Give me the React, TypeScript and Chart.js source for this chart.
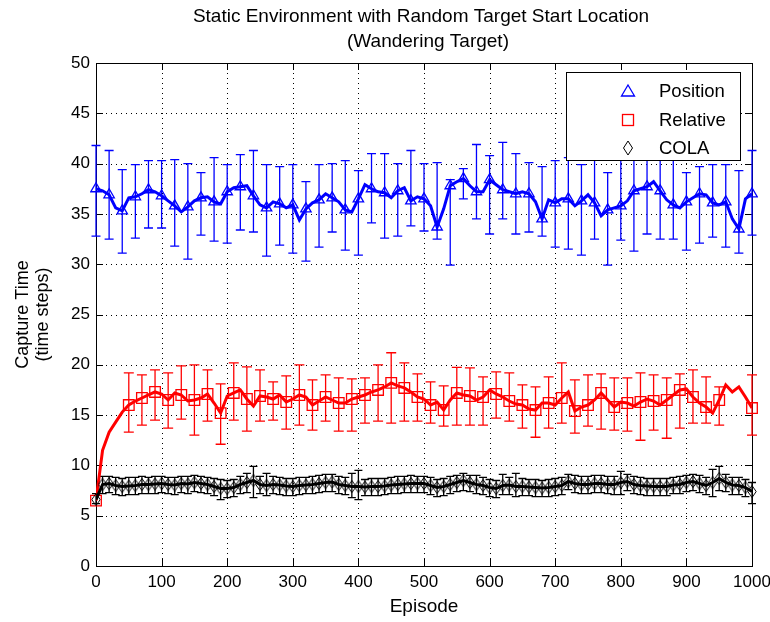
import React, { useEffect, useRef } from 'react';
import { Chart, registerables } from 'chart.js';

Chart.register(...registerables);

// ---------- data ----------
const EPISODES = Array.from({ length: 101 }, (_, i) => i * 10);
const X_TICKS = [0, 100, 200, 300, 400, 500, 600, 700, 800, 900, 1000];
const Y_TICKS = [0, 5, 10, 15, 20, 25, 30, 35, 40, 45, 50];

const TITLE_LINES = ['Static Environment with Random Target Start Location', '(Wandering Target)'];
const Y_TITLE = ['Capture Time', '(time steps)'];
const X_TITLE = 'Episode';
const SERIES_NAMES = ['Position', 'Relative', 'COLA'];

const POS_LINE = [
  37.5, 37.3, 36.9, 35.6, 35.3, 36.6, 36.7, 37.0, 37.4, 37.2,
  36.8, 36.3, 35.8, 35.2, 35.7, 36.3, 36.6, 36.7, 36.2, 36.0,
  37.2, 37.6, 37.7, 37.8, 36.8, 35.9, 35.6, 36.2, 36.0, 35.6,
  35.9, 34.4, 35.5, 36.1, 36.4, 37.0, 36.6, 36.2, 35.4, 35.2,
  36.5, 37.9, 37.5, 37.2, 37.1, 36.6, 37.3, 37.6, 36.3, 36.7,
  36.5, 35.8, 33.7, 35.5, 37.8, 38.2, 38.5, 37.8, 37.2, 37.2,
  38.4, 37.9, 37.4, 37.2, 37.0, 37.2, 37.0, 36.2, 34.5, 36.4,
  36.1, 36.5, 36.5, 35.8, 36.3, 36.9, 36.1, 34.8, 35.4, 35.6,
  35.8, 36.3, 37.3, 37.5, 37.7, 38.2, 37.3, 36.4, 35.9, 35.6,
  36.2, 36.6, 37.0, 36.9, 36.1, 35.9, 36.2, 34.5, 33.5, 36.5,
  37.0,
];
const POS_MARK_EP = EPISODES.filter((_, i) => i % 2 === 0);
const POS_HI = [
  41.8, 41.3, 39.4, 39.9, 40.3, 40.3, 40.4, 40.0, 39.1, 40.6,
  39.9, 40.9, 41.3, 39.9, 39.7, 39.9, 38.2, 39.9, 40.0, 40.3,
  39.3, 41.0, 41.0, 40.0, 41.3, 40.0, 40.1, 38.4, 39.5, 41.9,
  40.8, 42.1, 41.0, 40.1, 39.7, 40.3, 40.6, 39.9, 42.0, 39.1,
  42.0, 41.6, 41.8, 41.5, 41.6, 39.1, 39.7, 39.9, 39.9, 39.3,
  41.3,
];
const POS_LO = [
  32.8, 32.5, 31.1, 32.6, 33.6, 33.6, 31.8, 30.5, 32.9, 32.3,
  32.1, 33.4, 33.2, 30.8, 31.9, 31.1, 30.3, 31.7, 33.2, 31.4,
  30.9, 34.1, 32.6, 32.8, 33.8, 33.3, 32.5, 29.9, 36.5, 34.5,
  33.0, 34.5, 33.0, 33.2, 32.8, 31.7, 31.5, 30.9, 32.5, 29.9,
  32.4, 31.3, 33.0, 32.5, 32.5, 31.4, 32.1, 32.7, 31.7, 31.1,
  32.9,
];

const REL_LINE = [
  6.5, 11.5, 13.3, 14.3, 15.3, 16.0, 16.4, 16.7, 17.0, 17.3,
  17.1, 16.5, 17.2, 17.0, 16.4, 16.5, 16.7, 17.1, 16.2, 15.2,
  16.9, 17.2, 17.5, 16.6, 15.9, 16.9, 16.8, 16.6, 17.0, 16.3,
  16.6, 17.0, 16.8, 16.0, 16.4, 16.8, 16.5, 16.2, 16.2, 16.6,
  16.8, 17.0, 17.3, 17.5, 17.8, 18.2, 17.9, 17.7, 17.3, 16.8,
  16.6, 16.0, 16.3, 15.5, 16.5, 17.2, 17.0, 16.9, 16.5, 16.8,
  17.5, 17.1, 16.8, 16.4, 16.1, 16.0, 15.6, 15.5, 16.2, 16.2,
  16.0, 16.7, 17.3, 15.4, 15.8, 16.0, 16.5, 17.2, 16.5, 15.8,
  16.3, 16.2, 15.9, 16.3, 16.6, 16.4, 16.0, 16.5, 17.0, 17.5,
  17.6, 16.8, 16.2, 15.8, 15.2, 16.5, 18.0, 17.3, 17.8, 16.8,
  15.7,
];
const REL_MARK_EP = [
  0, 50, 70, 90, 110, 130, 150, 170, 190, 210, 230, 250, 270, 290, 310, 330,
  350, 370, 390, 410, 430, 450, 470, 490, 510, 530, 550, 570, 590, 610, 630,
  650, 670, 690, 710, 730, 750, 770, 790, 810, 830, 850, 870, 890, 910, 930,
  950, 1000,
];
const REL_HI = [
  null, 19.2, 19.0, 19.5, 19.2, 19.9, 20.0, 19.5, 18.1, 20.2, 19.8, 19.5, 18.3,
  18.9, 20.0, 18.5, 19.0, 18.7, 18.6, 18.7, 20.0, 21.2, 20.2, 19.1, 18.3, 17.9,
  19.75, 19.7, 18.8, 19.3, 19.2, 18.0, 17.8, 18.8, 20.2, 18.5, 19.0, 19.1, 18.7,
  18.7, 19.2, 19.0, 18.7, 19.1, 19.5, 18.8, 17.8, 19.0,
];
const REL_LO = [
  null, 13.3, 14.0, 14.5, 13.7, 14.6, 13.0, 14.4, 12.1, 14.5, 13.4, 14.4, 14.5,
  13.6, 14.0, 13.5, 14.4, 13.4, 13.4, 14.2, 14.4, 14.2, 14.4, 14.4, 14.2, 13.9,
  14.0, 14.0, 14.0, 14.7, 14.4, 13.7, 12.8, 13.7, 14.2, 13.2, 13.9, 13.6, 13.5,
  13.4, 12.5, 13.5, 12.7, 13.7, 14.2, 14.2, 14.0, 13.0,
];

const COLA_LINE = [
  6.6, 8.1, 8.2, 8.0, 7.9, 7.95, 8.0, 8.1, 8.1, 8.15,
  8.2, 8.1, 8.05, 8.2, 8.15, 8.3, 8.2, 8.1, 7.9, 7.7,
  7.7, 7.8, 8.1, 8.3, 8.5, 8.1, 8.0, 8.1, 8.05, 7.95,
  7.9, 8.0, 8.05, 8.1, 8.2, 8.3, 8.35, 8.1, 8.0, 7.9,
  7.9, 7.85, 7.9, 7.9, 7.95, 8.05, 8.1, 8.15, 8.2, 8.2,
  8.2, 8.0, 7.8, 7.9, 8.1, 8.3, 8.5, 8.3, 8.1, 8.0,
  7.8, 7.7, 8.0, 8.05, 7.9, 7.9, 7.85, 7.8, 7.75, 7.8,
  7.9, 8.0, 8.4, 8.2, 8.1, 8.1, 8.2, 8.2, 8.1, 8.1,
  8.3, 8.4, 8.1, 8.0, 7.95, 7.9, 7.9, 7.9, 8.05, 8.1,
  8.3, 8.4, 8.2, 8.0, 8.3, 8.7, 8.3, 8.05, 8.0, 7.8,
  7.4,
];
const COLA_HI = [
  7.2, 8.9, 8.9, 8.8, 8.7, 8.8, 8.8, 8.9, 8.8, 8.9,
  8.9, 8.8, 8.8, 8.9, 8.9, 9.0, 8.9, 8.8, 8.7, 8.6,
  8.5, 8.6, 8.9, 9.2, 9.9, 8.9, 9.2, 8.9, 8.8, 8.7,
  8.7, 8.8, 8.8, 8.9, 9.0, 9.1, 9.1, 8.9, 8.8, 9.2,
  9.5, 8.6, 8.7, 8.7, 8.7, 8.8, 8.9, 8.9, 9.0, 8.9,
  8.9, 8.8, 8.6, 8.7, 8.9, 9.0, 9.2, 9.0, 9.0, 8.8,
  8.6, 8.5, 9.1, 8.8, 9.2, 8.7, 8.6, 8.6, 8.5, 8.6,
  8.7, 8.8, 9.1, 9.0, 8.9, 8.9, 9.0, 9.0, 8.9, 8.9,
  9.4, 9.1, 8.9, 8.8, 8.7, 8.7, 8.7, 8.7, 8.8, 8.9,
  9.0, 9.1, 9.0, 8.8, 9.6, 9.9, 9.1, 8.8, 8.8, 8.6,
  8.3,
];
const COLA_LO = [
  6.2, 7.2, 7.3, 7.1, 7.0, 7.1, 7.1, 7.2, 7.2, 7.2,
  7.3, 7.2, 7.1, 7.3, 7.2, 7.4, 7.3, 7.2, 7.0, 6.6,
  6.8, 6.9, 7.2, 7.3, 6.8, 7.2, 7.0, 7.2, 7.1, 7.0,
  7.0, 7.1, 7.2, 7.2, 7.3, 7.4, 7.4, 7.2, 7.1, 6.8,
  6.6, 7.0, 7.0, 7.0, 7.1, 7.2, 7.2, 7.3, 7.3, 7.3,
  7.3, 7.1, 6.9, 7.0, 7.2, 7.4, 7.5, 7.4, 7.2, 7.1,
  6.9, 6.8, 7.1, 7.1, 6.9, 7.0, 7.0, 6.9, 6.9, 6.9,
  7.0, 7.1, 7.6, 7.3, 7.2, 7.2, 7.3, 7.3, 7.2, 7.1,
  7.1, 7.5, 7.2, 7.1, 7.0, 7.0, 7.0, 7.0, 7.2, 7.2,
  7.4, 7.5, 7.3, 7.1, 6.9, 7.5, 7.4, 7.1, 7.1, 6.9,
  6.2,
];

const BLUE = '#0000ff';
const RED = '#ff0000';
const BLACK = '#000000';
const FONT_FAMILY = '"Liberation Sans", Arial, Helvetica, sans-serif';

function makeDiamond(): HTMLCanvasElement {
  const c = document.createElement('canvas');
  c.width = 10;
  c.height = 13;
  const g = c.getContext('2d')!;
  g.strokeStyle = BLACK;
  g.lineWidth = 1;
  g.beginPath();
  g.moveTo(5, 0.5);
  g.lineTo(9.2, 6.5);
  g.lineTo(5, 12.5);
  g.lineTo(0.8, 6.5);
  g.closePath();
  g.stroke();
  return c;
}

const decorPlugin = {
  id: 'decor',
  beforeDatasetsDraw(chart: any) {
    const { ctx, chartArea: a, scales } = chart;
    const xs = scales.x;
    const ys = scales.y;
    ctx.save();
    // dotted grid
    ctx.strokeStyle = BLACK;
    ctx.lineWidth = 1;
    ctx.setLineDash([1, 4]);
    ctx.beginPath();
    X_TICKS.slice(1, -1).forEach((v) => {
      const x = Math.round(xs.getPixelForValue(v)) + 0.5;
      ctx.moveTo(x, a.top);
      ctx.lineTo(x, a.bottom);
    });
    Y_TICKS.slice(1, -1).forEach((v) => {
      const y = Math.round(ys.getPixelForValue(v)) + 0.5;
      ctx.moveTo(a.left, y);
      ctx.lineTo(a.right, y);
    });
    ctx.stroke();
    ctx.setLineDash([]);
    // box
    ctx.strokeRect(Math.round(a.left) + 0.5, Math.round(a.top) + 0.5, Math.round(a.right - a.left), Math.round(a.bottom - a.top));
    // inward ticks
    const tl = 7;
    ctx.beginPath();
    X_TICKS.forEach((v) => {
      const x = Math.round(xs.getPixelForValue(v)) + 0.5;
      ctx.moveTo(x, a.bottom);
      ctx.lineTo(x, a.bottom - tl);
      ctx.moveTo(x, a.top);
      ctx.lineTo(x, a.top + tl);
    });
    Y_TICKS.forEach((v) => {
      const y = Math.round(ys.getPixelForValue(v)) + 0.5;
      ctx.moveTo(a.left, y);
      ctx.lineTo(a.left + tl, y);
      ctx.moveTo(a.right, y);
      ctx.lineTo(a.right - tl, y);
    });
    ctx.stroke();

    // error bars
    const sets = [
      { ep: POS_MARK_EP, hi: POS_HI, lo: POS_LO, color: BLUE, cap: 4.5 },
      { ep: REL_MARK_EP, hi: REL_HI, lo: REL_LO, color: RED, cap: 5 },
      { ep: EPISODES, hi: COLA_HI, lo: COLA_LO, color: BLACK, cap: 4 },
    ];
    ctx.beginPath();
    ctx.rect(a.left - 6, a.top, a.right - a.left + 12, a.bottom - a.top);
    ctx.clip();
    sets.forEach((s) => {
      ctx.strokeStyle = s.color;
      ctx.lineWidth = 1.3;
      ctx.beginPath();
      s.ep.forEach((e, i) => {
        const h = s.hi[i];
        const l = s.lo[i];
        if (h == null || l == null) return;
        const x = xs.getPixelForValue(e);
        const yh = ys.getPixelForValue(h);
        const yl = ys.getPixelForValue(l);
        ctx.moveTo(x, yh);
        ctx.lineTo(x, yl);
        ctx.moveTo(x - s.cap, yh);
        ctx.lineTo(x + s.cap, yh);
        ctx.moveTo(x - s.cap, yl);
        ctx.lineTo(x + s.cap, yl);
      });
      ctx.stroke();
    });
    ctx.restore();
  },
  afterDraw(chart: any) {
    const { ctx, chartArea: a } = chart;
    ctx.save();
    ctx.fillStyle = BLACK;
    // title
    ctx.font = `19px ${FONT_FAMILY}`;
    ctx.textAlign = 'center';
    ctx.textBaseline = 'middle';
    const cx = (a.left + a.right) / 2;
    ctx.fillText(TITLE_LINES[0], cx - 3, 17);
    ctx.fillText(TITLE_LINES[1], cx + 4, 42);
    // x title
    ctx.font = `19px ${FONT_FAMILY}`;
    ctx.fillText(X_TITLE, cx, 607);
    // y title
    ctx.font = `18px ${FONT_FAMILY}`;
    ctx.save();
    ctx.translate(23, (a.top + a.bottom) / 2);
    ctx.rotate(-Math.PI / 2);
    ctx.fillText(Y_TITLE[0], 0, 0);
    ctx.fillText(Y_TITLE[1], 0, 20);
    ctx.restore();

    // legend
    const lx = 566.5, ly = 72.5, lw = 174, lh = 88;
    ctx.fillStyle = '#ffffff';
    ctx.fillRect(lx, ly, lw, lh);
    ctx.strokeStyle = BLACK;
    ctx.lineWidth = 1;
    ctx.strokeRect(lx, ly, lw, lh);
    const rows = [91, 120, 148];
    const mx = 628;
    ctx.font = `18.5px ${FONT_FAMILY}`;
    ctx.textAlign = 'left';
    ctx.textBaseline = 'middle';
    ctx.fillStyle = BLACK;
    SERIES_NAMES.forEach((n, i) => ctx.fillText(n, 659, rows[i] + 1));
    // triangle
    ctx.lineWidth = 1.3;
    ctx.strokeStyle = BLUE;
    ctx.beginPath();
    ctx.moveTo(mx, rows[0] - 6);
    ctx.lineTo(mx + 6.5, rows[0] + 5);
    ctx.lineTo(mx - 6.5, rows[0] + 5);
    ctx.closePath();
    ctx.stroke();
    // square
    ctx.strokeStyle = RED;
    ctx.strokeRect(mx - 5.5, rows[1] - 5.5, 11, 11);
    // diamond
    ctx.strokeStyle = BLACK;
    ctx.lineWidth = 1;
    ctx.beginPath();
    ctx.moveTo(mx, rows[2] - 7);
    ctx.lineTo(mx + 4.5, rows[2]);
    ctx.lineTo(mx, rows[2] + 7);
    ctx.lineTo(mx - 4.5, rows[2]);
    ctx.closePath();
    ctx.stroke();
    ctx.restore();
  },
};

export default function App() {
  const ref = useRef<HTMLCanvasElement>(null);
  useEffect(() => {
    document.body.style.margin = '0';
    const canvas = ref.current!;
    const diamond = makeDiamond();
    const pts = (eps: number[], line: number[]) => eps.map((e) => ({ x: e, y: line[e / 10] }));
    const chart = new Chart(canvas, {
      type: 'line',
      data: {
        datasets: [
          {
            label: SERIES_NAMES[2] + ' markers',
            data: pts(EPISODES, COLA_LINE),
            showLine: false,
            pointStyle: diamond as any,
            pointRadius: 5,
            borderColor: BLACK,
            backgroundColor: 'rgba(0,0,0,0)',
            clip: 6,
          },
          {
            label: SERIES_NAMES[2],
            data: pts(EPISODES, COLA_LINE),
            borderColor: BLACK,
            borderWidth: 3,
            pointRadius: 0,
            tension: 0,
          },
          {
            label: SERIES_NAMES[1] + ' markers',
            data: pts(REL_MARK_EP, REL_LINE),
            showLine: false,
            pointStyle: 'rect',
            pointRadius: 7.5,
            borderWidth: 1.3,
            borderColor: RED,
            backgroundColor: 'rgba(0,0,0,0)',
            clip: 6,
          },
          {
            label: SERIES_NAMES[1],
            data: pts(EPISODES, REL_LINE),
            borderColor: RED,
            borderWidth: 3,
            pointRadius: 0,
            tension: 0,
          },
          {
            label: SERIES_NAMES[0] + ' markers',
            data: pts(POS_MARK_EP, POS_LINE),
            showLine: false,
            pointStyle: 'triangle',
            pointRadius: 6,
            borderWidth: 1.3,
            borderColor: BLUE,
            backgroundColor: 'rgba(0,0,0,0)',
            clip: 6,
          },
          {
            label: SERIES_NAMES[0],
            data: pts(EPISODES, POS_LINE),
            borderColor: BLUE,
            borderWidth: 3,
            pointRadius: 0,
            tension: 0,
          },
        ],
      },
      options: {
        responsive: false,
        animation: false,
        devicePixelRatio: 1,
        events: [],
        layout: { padding: { top: 63, right: 18, left: 0, bottom: 0 } },
        plugins: {
          legend: { display: false },
          tooltip: { enabled: false },
          title: { display: false },
        },
        scales: {
          x: {
            type: 'linear',
            min: 0,
            max: 1000,
            afterBuildTicks: (s: any) => {
              s.ticks = X_TICKS.map((v) => ({ value: v }));
            },
            ticks: {
              color: BLACK,
              font: { family: FONT_FAMILY, size: 17 },
              padding: 6,
              maxRotation: 0,
              autoSkip: false,
              callback: (v: any) => String(v),
            },
            grid: { display: false, drawTicks: false },
            border: { display: false },
            afterFit: (s: any) => {
              s.height = 56;
              s.paddingLeft = 0;
              s.paddingRight = 0;
            },
          },
          y: {
            type: 'linear',
            min: 0,
            max: 50,
            afterBuildTicks: (s: any) => {
              s.ticks = Y_TICKS.map((v) => ({ value: v }));
            },
            ticks: {
              color: BLACK,
              font: { family: FONT_FAMILY, size: 17 },
              padding: 6,
              autoSkip: false,
              callback: (v: any) => String(v),
            },
            grid: { display: false, drawTicks: false },
            border: { display: false },
            afterFit: (s: any) => {
              s.width = 96;
              s.paddingTop = 0;
              s.paddingBottom = 0;
            },
          },
        },
      },
      plugins: [decorPlugin],
    });
    return () => chart.destroy();
  }, []);
  return (
    <div style={{ width: 770, height: 622 }}>
      <canvas ref={ref} width={770} height={622} style={{ display: 'block', width: 770, height: 622 }} />
    </div>
  );
}
